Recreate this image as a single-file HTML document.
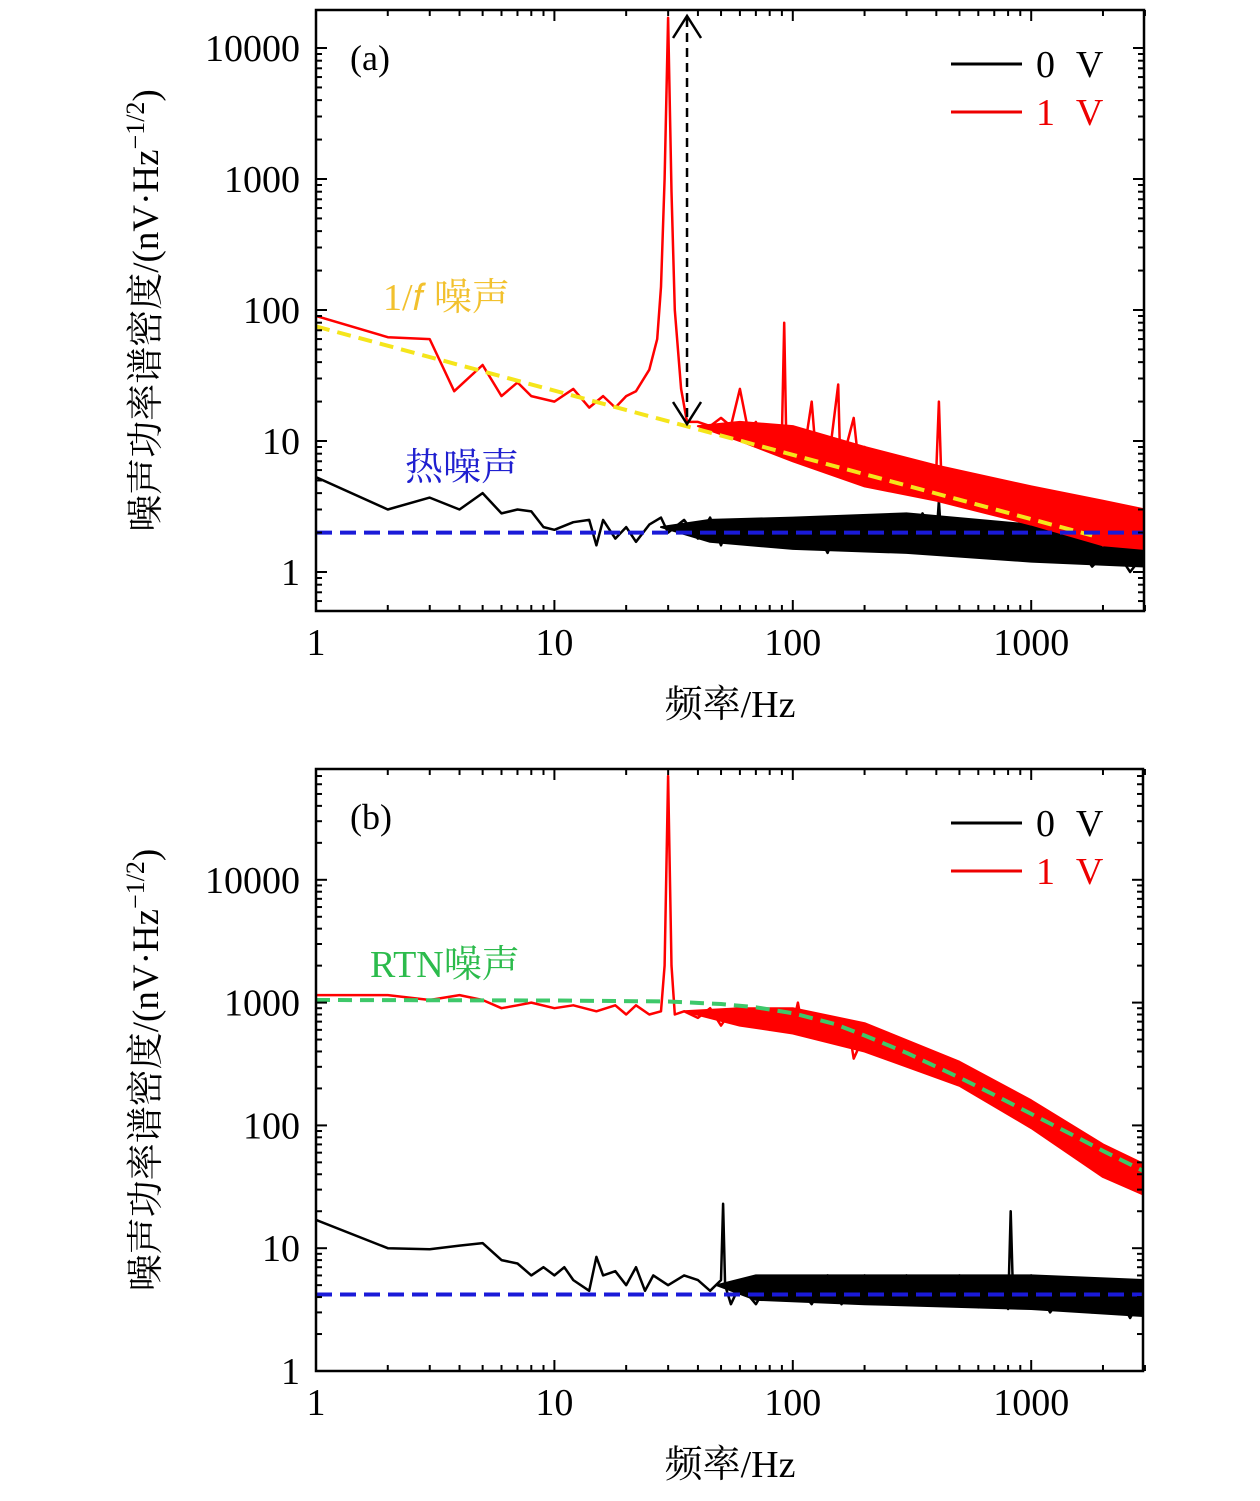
<!DOCTYPE html>
<html><head><meta charset="utf-8">
<style>
body{margin:0;background:#fff;width:1260px;height:1496px;overflow:hidden}
svg text{font-family:"Liberation Serif","Noto Serif CJK SC",serif}
</style></head>
<body>
<svg id="chart" width="1260" height="1496" viewBox="0 0 1260 1496" xmlns="http://www.w3.org/2000/svg"></svg>
<script>
// ---- Panel (a) data ----
const aRedF=[1,2,3,3.8,5,6,7,8,10,12,14,16,18,20,22,25,27,28,29,30,31,32,34,36,40,45,50,55,60,65,70,75,80,85,90,92,94,100,110,120,125,130,140,155,158,170,180,190,200,220,250,280,300,350,400,410,420,450,500,550,600,700,800,900,1000,1200,1500,1800,2000,2200,2500,2800,3000];
const aRedV=[90,62,60,24,38,22,28,22,20,25,18,22,18,22,24,35,60,150,1000,17000,800,100,25,14,14,13,15,13,25,12,14,9,13,8,11,80,9,12,7,20,8,11,6,27,7,10,15,6,9,5,8,5,7,4.5,6,20,5,6,3.5,5.5,3.5,5,3,4.5,2.8,4,2.3,3.5,1.6,3,2,3,1.8];
const aRedBandF=[40,60,100,200,400,1000,2000,3000];
const aRedBandHi=[13,14,13,9,6.5,4.5,3.5,3];
const aRedBandLo=[13,10,7,4.5,3.5,2.3,1.6,1.5];
const aBlkF=[1,2,3,4,5,6,7,8,9,10,12,14,15,16,18,20,22,25,28,30,35,40,45,50,55,60,70,80,90,100,120,140,160,180,200,230,260,300,350,400,410,420,500,600,700,800,1000,1200,1500,1800,2200,2600,3000];
const aBlkV=[5.3,3,3.7,3,4,2.8,3,2.9,2.2,2.1,2.4,2.5,1.6,2.5,1.8,2.2,1.7,2.3,2.6,2,2.5,1.8,2.6,1.6,2.5,1.7,2.4,1.6,2.5,1.7,2.4,1.4,2.6,1.6,2.5,1.5,2.7,1.6,2.8,1.8,3.5,1.7,2.5,1.4,2.2,1.3,2,1.2,1.8,1.1,1.6,1.0,1.4];
const aBlkBandF=[28,45,100,300,1000,3000];
const aBlkBandHi=[2.2,2.5,2.6,2.8,2.3,1.9];
const aBlkBandLo=[2.2,1.7,1.5,1.4,1.2,1.1];
const aFitF=[1,1800];
const aFitV=[75,1.9];
const aThermF=[1,3000];
const aThermV=[2.0,2.0];
// ---- Panel (b) data ----
const bRedF=[1,2,3,4,5,6,7,8,10,12,15,18,20,22,25,28,29,30,31,32,35,40,45,50,55,60,70,80,90,100,105,110,130,150,170,180,200,220,250,300,350,400,450,500,600,700,800,900,1000,1200,1500,1800,2000,2200,2500,2800,3000];
const bRedV=[1150,1150,1050,1150,1050,900,950,1000,900,950,850,950,800,950,800,850,2000,70000,2000,800,850,750,900,650,850,700,750,600,800,650,1000,600,800,650,700,350,550,450,480,380,350,270,280,220,200,150,150,110,110,80,75,50,55,40,42,30,38];
const bRedBandF=[35,60,100,200,500,1000,2000,3000];
const bRedBandHi=[850,900,900,680,330,160,70,48];
const bRedBandLo=[850,650,560,400,210,95,38,27];
const bFitF=[1,10,30,50,70,100,150,200,300,500,700,1000,1500,2000,3000];
const bFitV=[1050,1040,1020,975,915,820,670,540,390,245,177,124,83,62,42];
const bBlkF=[1,2,3,4,5,6,7,8,9,10,11,12,14,15,16,18,20,22,24,26,30,35,40,45,50,51,52,55,60,70,80,90,100,120,140,160,200,250,300,400,500,600,700,800,820,840,1000,1200,1500,1800,2200,2600,3000];
const bBlkV=[17,10,9.8,10.5,11,8,7.5,6,7,6,7,5.5,4.5,8.5,6,6.5,5,7,4.5,6,5,6,5.5,4.5,5.5,23,5,3.5,5,3.5,5.5,3.8,5.5,3.5,6,3.5,6,3.5,6,3.5,6,3.3,5.5,3.2,20,4,6,3,5.5,3,5,2.7,4.5];
const bBlkBandF=[48,70,200,1000,3000];
const bBlkBandHi=[5,6,6,6,5.5];
const bBlkBandLo=[5,3.8,3.5,3.2,2.8];
const bThermF=[1,3000];
const bThermV=[4.2,4.2];
const yTicksA=[1,10,100,1000,10000];
const yTicksB=[1,10,100,1000,10000];
const xTicks=[1,10,100,1000];

const NS='http://www.w3.org/2000/svg';
const svg=document.getElementById('chart');
function mk(tag,attrs,parent,txt){const e=document.createElementNS(NS,tag);for(const k in attrs)e.setAttribute(k,attrs[k]);if(txt!==undefined)e.textContent=txt;(parent||svg).appendChild(e);return e;}

function panel(cfg){
  const g=mk('g',{});
  
  
  const L=316,R=cfg.R,T=cfg.T,B=cfg.B;
  const xs=f=>L+Math.log10(f)*238.4;
  const ys=v=>cfg.y1-Math.log10(v)*cfg.dec;
  const clip='clip'+cfg.id;
  const cp=mk('clipPath',{id:clip},g);mk('rect',{x:L,y:T,width:R-L,height:B-T},cp);
  const plot=mk('g',{'clip-path':'url(#'+clip+')'},g);
  function band(b){
    let d=b.f.map((f,i)=>(i?'L':'M')+xs(f).toFixed(1)+','+ys(b.hi[i]).toFixed(1)).join('');
    for(let i=b.f.length-1;i>=0;i--)d+='L'+xs(b.f[i]).toFixed(1)+','+ys(b.lo[i]).toFixed(1);
    const p=mk('path',{d:d+'Z',fill:b.c,stroke:b.c,'stroke-width':2,'stroke-linejoin':'round'},plot);
    
    
  }
  function line(F,V,color,w,dash,name){
    const d=F.map((f,i)=>(i?'L':'M')+xs(f).toFixed(1)+','+ys(V[i]).toFixed(1)).join('');
    const p=mk('path',{d:d,fill:'none',stroke:color,'stroke-width':w,'stroke-dasharray':dash||'none','stroke-linejoin':'round'},plot);
    
    
  }
  cfg.series.forEach(s=>{ if(s.band) band(s.band); line(s.f,s.v,s.c,s.w,s.d,s.n); });
  cfg.fits.forEach(s=>line(s.f,s.v,s.c,s.w,s.d,s.n));
  const fr=mk('rect',{x:L,y:T,width:R-L,height:B-T,fill:'none',stroke:'#000','stroke-width':2.5},g);
  
  
  for(let dec=1;dec<=1000;dec*=10){for(let m=1;m<=9;m++){const f=dec*m;if(f>3000)break;const x=xs(f);const len=m===1?11:6;
    mk('line',{x1:x,y1:B,x2:x,y2:B-len,stroke:'#000','stroke-width':2},g);
    mk('line',{x1:x,y1:T,x2:x,y2:T+len,stroke:'#000','stroke-width':2},g);}}
  xTicks.forEach(f=>{const t=mk('text',{x:xs(f),y:B+44,'font-size':38,'text-anchor':'middle'},g,String(f));
    });
  for(let dec=0.1;dec<=1e5;dec*=10){for(let m=1;m<=9;m++){const v=dec*m;const y=ys(v);if(y<T||y>B)continue;const len=m===1?11:6;
    mk('line',{x1:L,y1:y,x2:L+len,y2:y,stroke:'#000','stroke-width':2},g);
    mk('line',{x1:R,y1:y,x2:R-len,y2:y,stroke:'#000','stroke-width':2},g);}}
  cfg.yt.forEach(v=>{const t=mk('text',{x:300,y:ys(v)+13,'font-size':38,'text-anchor':'end'},g,String(v));
    });
  const xt=mk('text',{x:730,y:B+106,'font-size':38,'text-anchor':'middle'},g,'频率/Hz');
  
  const cy=(T+B)/2;
  const yt=mk('text',{x:158,y:cy,'font-size':37,'text-anchor':'middle',transform:'rotate(-90 158 '+cy+')'},g);
  
  mk('tspan',{},yt,'噪声功率谱密度/(nV·Hz');mk('tspan',{dy:-14,'font-size':26},yt,'−1/2');mk('tspan',{dy:14},yt,')');
  const pl=mk('text',{x:350,y:T+60,'font-size':36},g,cfg.label);
  
  [['0 V','#000',0],['1 V','#e00',48]].forEach(([lab,c,dy])=>{
    const lg=mk('g',{},g);
    mk('line',{x1:951,y1:T+54+dy,x2:1022,y2:T+54+dy,stroke:c,'stroke-width':3},lg);
    mk('text',{x:1036,y:T+67+dy,'font-size':38,fill:c,'letter-spacing':'6'},lg,lab);
  });
  cfg.annot.forEach(a=>{const t=mk('text',{x:a.x,y:a.y,'font-size':38,fill:a.c},g,a.t);
    });
  return {xs,ys,g};
}

const pa=panel({id:'a',name:'panel-a',T:10,B:611,R:1144,y1:572,dec:131,yt:yTicksA,label:'(a)',
  series:[
    {f:aBlkF,v:aBlkV,c:'#000',w:2.5,n:'series-0v',band:{f:aBlkBandF,hi:aBlkBandHi,lo:aBlkBandLo,c:'#000',n:'series-0v-noise-band'}},
    {f:aRedF,v:aRedV,c:'#f00',w:2.5,n:'series-1v',band:{f:aRedBandF,hi:aRedBandHi,lo:aRedBandLo,c:'#f00',n:'series-1v-noise-band'}}],
  fits:[
    {f:aFitF,v:aFitV,c:'#f5e51b',w:4,d:'14 8',n:'one-over-f-fit'},
    {f:aThermF,v:aThermV,c:'#1a1ad8',w:4,d:'16 8',n:'thermal-noise-line'}],
  annot:[{x:383,y:310,t:'1/𝑓 噪声',c:'#f2c12e',n:'one-over-f-label'},{x:405,y:480,t:'热噪声',c:'#2020d0',n:'thermal-label'}]});
const ax=pa.xs(36);
const ar=mk('g',{},pa.g);
mk('line',{x1:ax,y1:18,x2:ax,y2:422,stroke:'#000','stroke-width':2.5,'stroke-dasharray':'9 6'},ar);
mk('path',{d:`M${ax-14},38 L${ax},16 L${ax+14},38 M${ax-14},402 L${ax},424 L${ax+14},402`,fill:'none',stroke:'#000','stroke-width':2.5},ar);

panel({id:'b',name:'panel-b',T:769,B:1371,R:1143,y1:1371,dec:122.8,yt:yTicksB,label:'(b)',
  series:[
    {f:bBlkF,v:bBlkV,c:'#000',w:2.5,n:'series-0v',band:{f:bBlkBandF,hi:bBlkBandHi,lo:bBlkBandLo,c:'#000',n:'series-0v-noise-band'}},
    {f:bRedF,v:bRedV,c:'#f00',w:2.5,n:'series-1v',band:{f:bRedBandF,hi:bRedBandHi,lo:bRedBandLo,c:'#f00',n:'series-1v-noise-band'}}],
  fits:[
    {f:bFitF,v:bFitV,c:'#3ec86a',w:4,d:'14 8',n:'rtn-fit'},
    {f:bThermF,v:bThermV,c:'#1a1ad8',w:4,d:'16 8',n:'thermal-noise-line'}],
  annot:[{x:370,y:977,t:'RTN噪声',c:'#2cbb4c',n:'rtn-label'}]});
</script>
</body></html>
